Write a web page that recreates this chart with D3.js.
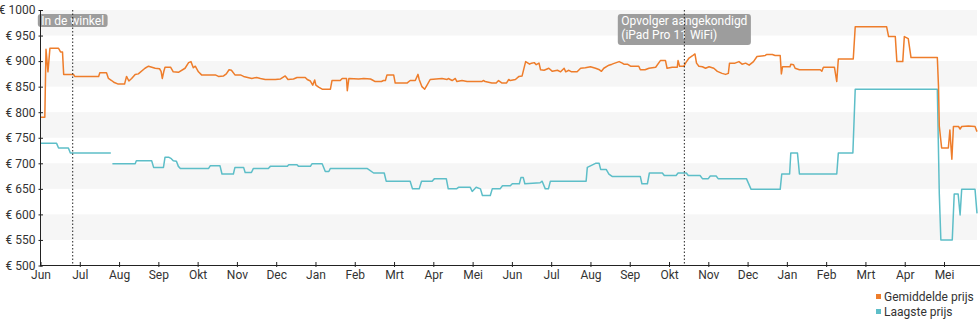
<!DOCTYPE html>
<html><head><meta charset="utf-8">
<script src="https://cdn.jsdelivr.net/npm/d3@7"></script>
<style>body{margin:0;background:#fff}svg{display:block;font-family:Roboto,sans-serif}</style>
</head><body><svg id="c" width="980" height="325"></svg>
<script>
// month index since Jun 2017 (fractional), value in euro
const monthLabels = ["Jun","Jul","Aug","Sep","Okt","Nov","Dec","Jan","Feb","Mrt","Apr","Mei",
                     "Jun","Jul","Aug","Sep","Okt","Nov","Dec","Jan","Feb","Mrt","Apr","Mei"];
const yTicks = [500,550,600,650,700,750,800,850,900,950,1000];
const seriesNames = ["Gemiddelde prijs","Laagste prijs"];
const seriesColors = ["#ee7d2b","#5dbec8"];

const avgPrice = [
[0.00,790],[0.11,790],[0.14,923],[0.19,879],[0.24,925],[0.46,925],[0.51,918],[0.56,918],[0.59,874],[0.84,874],
[0.87,870],[1.48,870],[1.51,877],[1.68,877],[1.73,866],[1.81,862],[1.88,858],[1.98,855],[2.14,855],[2.19,870],
[2.25,861],[2.32,866],[2.41,874],[2.49,875],[2.66,886],[2.75,890],[2.92,886],[3.03,885],[3.07,880],[3.10,866],
[3.14,880],[3.17,888],[3.31,888],[3.38,879],[3.51,878],[3.68,886],[3.77,897],[3.83,899],[3.89,887],[3.94,890],
[4.02,879],[4.10,873],[4.45,873],[4.53,870],[4.66,871],[4.73,875],[4.80,883],[4.86,882],[4.95,873],[5.09,873],
[5.17,870],[5.38,866],[5.50,868],[5.60,866],[5.72,864],[5.98,864],[6.11,865],[6.23,871],[6.30,864],[6.44,865],
[6.53,868],[6.74,868],[6.79,864],[6.87,861],[6.93,853],[6.98,863],[7.01,853],[7.08,849],[7.17,845],[7.38,845],
[7.42,862],[7.63,862],[7.68,866],[7.79,866],[7.81,842],[7.85,866],[8.10,865],[8.23,866],[8.40,865],[8.45,863],
[8.52,860],[8.68,860],[8.73,862],[8.78,862],[8.82,873],[8.99,873],[9.03,857],[9.33,857],[9.41,862],[9.54,862],
[9.61,874],[9.64,864],[9.71,850],[9.78,845],[9.84,853],[9.92,864],[10.22,866],[10.35,864],[10.38,866],[10.48,862],
[10.56,866],[10.60,860],[10.73,862],[10.86,860],[11.24,860],[11.27,862],[11.32,860],[11.49,857],[11.60,857],[11.66,862],
[11.75,857],[11.86,857],[11.92,864],[11.96,862],[12.09,864],[12.18,870],[12.26,871],[12.35,899],[12.39,897],[12.45,894],
[12.50,896],[12.57,897],[12.62,893],[12.69,896],[12.73,883],[12.82,882],[12.94,886],[13.03,880],[13.16,882],[13.24,879],
[13.33,886],[13.37,879],[13.45,882],[13.52,879],[13.66,879],[13.75,886],[13.87,887],[14.00,889],[14.13,886],[14.23,883],
[14.28,880],[14.34,886],[14.47,892],[14.55,894],[14.73,899],[14.81,896],[14.85,894],[14.94,894],[15.02,890],[15.23,890],
[15.27,883],[15.39,883],[15.49,886],[15.66,888],[15.78,901],[15.91,901],[15.95,886],[16.08,888],[16.21,888],[16.23,901],
[16.27,890],[16.38,890],[16.42,896],[16.51,906],[16.59,910],[16.66,914],[16.70,896],[16.76,890],[16.85,889],[16.93,886],
[17.02,889],[17.14,886],[17.23,880],[17.35,876],[17.44,874],[17.51,876],[17.54,896],[17.68,896],[17.78,899],[17.86,894],
[17.95,896],[18.04,892],[18.15,899],[18.24,909],[18.45,911],[18.49,913],[18.63,913],[18.70,911],[18.83,911],[18.86,875],
[18.89,889],[19.08,889],[19.10,894],[19.17,893],[19.21,886],[19.32,883],[19.85,883],[19.89,880],[19.93,888],[20.21,888],
[20.27,860],[20.31,904],[20.69,904],[20.74,967],[21.54,967],[21.59,948],[21.76,948],[21.80,899],[21.95,899],[21.99,948],
[22.04,946],[22.09,944],[22.16,907],[22.83,907],[22.86,850],[22.88,773],[22.94,730],[23.11,730],[23.15,765],[23.18,730],
[23.20,708],[23.24,772],[23.37,772],[23.41,767],[23.45,772],[23.62,773],[23.79,772],[23.84,762]
];

const lowPrice = [
[0.00,739],[0.41,739],[0.46,730],[0.71,730],[0.76,720],[1.79,720],null,
[1.83,699],[2.41,699],[2.44,705],[2.83,705],[2.88,692],[3.13,692],[3.17,712],[3.26,712],[3.33,709],[3.38,705],
[3.46,704],[3.51,694],[3.56,690],[4.28,690],[4.32,695],[4.57,695],[4.62,679],[4.91,679],[4.95,692],[5.17,692],
[5.21,682],[5.37,682],[5.42,690],[5.80,690],[5.85,694],[6.28,694],[6.32,697],[6.53,697],[6.57,694],[6.87,694],
[6.91,699],[7.17,699],[7.25,684],[7.34,684],[7.38,690],[8.31,690],[8.35,688],[8.48,681],[8.75,681],[8.80,665],
[9.41,665],[9.47,650],[9.64,650],[9.70,665],[9.97,665],[10.03,670],[10.33,670],[10.38,650],[10.59,650],[10.64,653],
[10.94,653],[10.99,645],[11.09,653],[11.20,650],[11.25,637],[11.45,637],[11.50,650],[11.70,650],[11.76,656],[11.96,656],
[12.01,660],[12.19,660],[12.23,672],[12.29,672],[12.33,660],[12.72,662],[12.77,665],[12.85,650],[12.93,650],[12.98,665],
[13.89,665],[13.92,692],[14.13,700],[14.22,700],[14.26,688],[14.40,688],[14.47,679],[14.56,674],[15.27,674],[15.31,660],
[15.45,660],[15.50,681],[15.83,681],[15.88,676],[16.18,676],[16.23,681],[16.44,681],[16.49,676],[16.79,676],[16.85,670],
[17.00,670],[17.05,675],[17.20,675],[17.25,670],[17.97,670],[18.09,649],[18.83,649],[18.87,679],[19.07,679],[19.10,720],
[19.27,720],[19.32,679],[20.27,679],[20.31,720],[20.68,720],[20.74,845],[22.83,845],[22.88,641],[22.92,550],[23.21,550],
[23.26,640],[23.36,640],[23.41,599],[23.45,649],[23.79,649],[23.84,602]
];

const eventMonths = [0.82, 16.39];
const eventLabels = [["In de winkel"], ["Opvolger aangekondigd","(iPad Pro 11 WiFi)"]];

const svg = d3.select("#c");
const x = d3.scaleLinear().domain([0, 23.84]).range([40.5, 977]);
const y = d3.scaleLinear().domain([500, 1000]).range([265.5, 10]);

// bands
const bands = svg.append("g");
for (let i = 0; i < yTicks.length - 1; i++) {
  if (i % 2 === 1) {
    bands.append("rect").attr("x", x(0)).attr("width", x(23.84) - x(0))
      .attr("y", y(yTicks[i+1])).attr("height", y(yTicks[i]) - y(yTicks[i+1]))
      .attr("fill", "#f6f6f6");
  }
}

// lines
const line = d3.line().defined(d => d !== null).x(d => x(d[0])).y(d => y(d[1]));
[lowPrice, avgPrice].forEach((s, k) => {
  svg.append("path").datum(s).attr("d", line).attr("fill", "none")
    .attr("stroke", seriesColors[1 - k]).attr("stroke-width", 1.5).attr("stroke-linejoin", "round");
});

// event labels
eventMonths.forEach((m, i) => {
  const g = svg.append("g");
  const cx = x(m);
  const lines = eventLabels[i];
  const tmp = g.append("text").attr("font-size", 12);
  let w = 0;
  lines.forEach(t => { tmp.text(t); w = Math.max(w, tmp.node().getComputedTextLength()); });
  tmp.remove();
  const pad = 3.5;
  const h = 13 + (lines.length - 1) * 18;
  g.append("rect").attr("x", cx - w/2 - pad).attr("y", 14).attr("width", w + 2*pad).attr("height", h)
    .attr("rx", 3).attr("fill", "#9d9d9d");
  lines.forEach((t, j) => {
    g.append("text").attr("x", cx - w/2).attr("y", 25 + j * 14.3).attr("font-size", 12)
      .attr("fill", "#fff").text(t);
  });
  svg.append("line").attr("x1", cx).attr("x2", cx).attr("y1", y(1000)).attr("y2", y(500))
    .attr("stroke", "#222").attr("stroke-width", 1).attr("stroke-dasharray", "1.5,2");
});

// y axis
const yAxis = svg.append("g").attr("transform", "translate(40.5,0)")
  .call(d3.axisLeft(y).tickValues(yTicks).tickFormat(d => "€ " + d).tickSizeInner(2).tickSizeOuter(0).tickPadding(3));
yAxis.select(".domain").remove();
yAxis.selectAll(".tick line").attr("x1", -2).attr("x2", 2.5).attr("stroke", "#222");
yAxis.selectAll(".tick text").attr("font-size", 12).attr("font-family", "Roboto").attr("fill", "#333");
svg.append("line").attr("x1", 40.5).attr("x2", 40.5).attr("y1", y(1000)).attr("y2", y(500) + 0.5).attr("stroke", "#222");

// x axis
const xAxis = svg.append("g").attr("transform", "translate(0,265.5)")
  .call(d3.axisBottom(x).tickValues(d3.range(24)).tickFormat(i => monthLabels[i]).tickSizeOuter(0).tickSizeInner(2).tickPadding(2));
xAxis.select(".domain").remove();
xAxis.selectAll(".tick line").attr("y1", -3.5).attr("y2", 1.5).attr("stroke", "#222");
xAxis.selectAll(".tick text").attr("font-size", 12).attr("font-family", "Roboto").attr("fill", "#333").attr("dy", "0.8em");
svg.append("line").attr("x1", 40).attr("x2", 980).attr("y1", 265.5).attr("y2", 265.5).attr("stroke", "#222");

// legend
const leg = svg.append("g");
seriesNames.forEach((n, i) => {
  leg.append("rect").attr("x", 876).attr("y", 294 + i * 15).attr("width", 5).attr("height", 5).attr("fill", seriesColors[i]);
  leg.append("text").attr("x", 884).attr("y", 300.5 + i * 15).attr("font-size", 12).attr("fill", "#333").text(n);
});
</script></body></html>
